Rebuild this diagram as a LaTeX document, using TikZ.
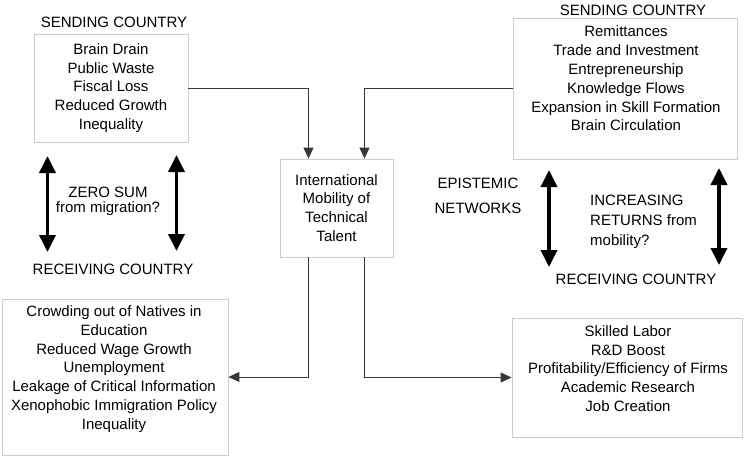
\documentclass[tikz,border=0pt]{standalone}
\usepackage{fontspec}
\setmainfont{Liberation Sans}
\usetikzlibrary{arrows.meta,positioning}
\definecolor{boxline}{RGB}{205,205,205}
\definecolor{wire}{RGB}{55,55,55}

\begin{document}
\begin{tikzpicture}[x=1pt,y=-1pt,
  every node/.style={font=\fontsize{15}{18.8}\selectfont},
  box/.style={draw=boxline,line width=0.8pt,inner sep=0pt},
  conn/.style={draw=wire,line width=1pt,-{Triangle[length=11pt,width=10pt]}},
  twoway/.style={line width=3.6pt,{Triangle[length=17pt,width=16pt]}-{Triangle[length=17pt,width=16pt]}}]
  \useasboundingbox (0,0) rectangle (745,464);

  % the five boxes
  \node[box,minimum width=154pt,minimum height=108pt,align=center] (sendL) at (111,88)
    {Brain Drain\\Public Waste\\Fiscal Loss\\Reduced Growth\\Inequality};
  \node[box,minimum width=224pt,minimum height=141pt] (sendR) at (625,88.5) {};
  \node[align=center] (sendRtxt) at (626,78.5)
    {Remittances\\Trade and Investment\\Entrepreneurship\\Knowledge Flows\\Expansion in Skill Formation\\Brain Circulation};
  \node[box,minimum width=113pt,minimum height=98pt,align=center] (talent) at (336.5,208)
    {International\\Mobility of\\Technical\\Talent};
  \node[box,minimum width=226pt,minimum height=156pt] (recvL) at (115,377) {};
  \node[align=center] (recvLtxt) at (114,369)
    {Crowding out of Natives in\\Education\\Reduced Wage Growth\\Unemployment\\Leakage of Critical Information\\Xenophobic Immigration Policy\\Inequality};
  \node[box,minimum width=230pt,minimum height=119pt] (recvR) at (627,377.5) {};
  \node[align=center] (recvRtxt) at (628,368.5)
    {Skilled Labor\\R\&D Boost\\Profitability/Efficiency of Firms\\Academic Research\\Job Creation};

  % headings and side notes
  \node (sendLlab) at (114,22) {SENDING COUNTRY};
  \node (sendRlab) at (633,10) {SENDING COUNTRY};
  \node (recvLlab) at (113,269) {RECEIVING COUNTRY};
  \node (recvRlab) at (636,279) {RECEIVING COUNTRY};
  \node[align=center,font=\fontsize{15}{15}\selectfont] (zerosum) at (108,201) {ZERO SUM\\from migration?};
  \node[align=center] (epist) at (478,195.5) {EPISTEMIC\\[6pt]NETWORKS};
  \node[align=left,anchor=west,inner sep=0pt,font=\fontsize{15}{20}\selectfont] (returns) at (590,222)
    {INCREASING\\RETURNS from\\mobility?};

  % flows through the centre box
  \draw[conn] (sendL.east) -| ([xshift=-28pt]talent.north);
  \draw[conn] (sendR.west) -| ([xshift=28pt]talent.north);
  \draw[conn] ([xshift=-28pt]talent.south) |- (recvL.east);
  \draw[conn] ([xshift=28pt]talent.south) |- (recvR.west);

  % two-way arrows
  \coordinate (zsA) at (47.5,156);  \coordinate (zsB) at (47.5,252);
  \coordinate (zsC) at (176.5,155); \coordinate (zsD) at (176.5,251);
  \coordinate (irA) at (549,170);   \coordinate (irB) at (549,267);
  \coordinate (irC) at (719,168);   \coordinate (irD) at (719,265);
  \draw[twoway] (zsA) -- (zsB);
  \draw[twoway] (zsC) -- (zsD);
  \draw[twoway] (irA) -- (irB);
  \draw[twoway] (irC) -- (irD);
\end{tikzpicture}
\end{document}
